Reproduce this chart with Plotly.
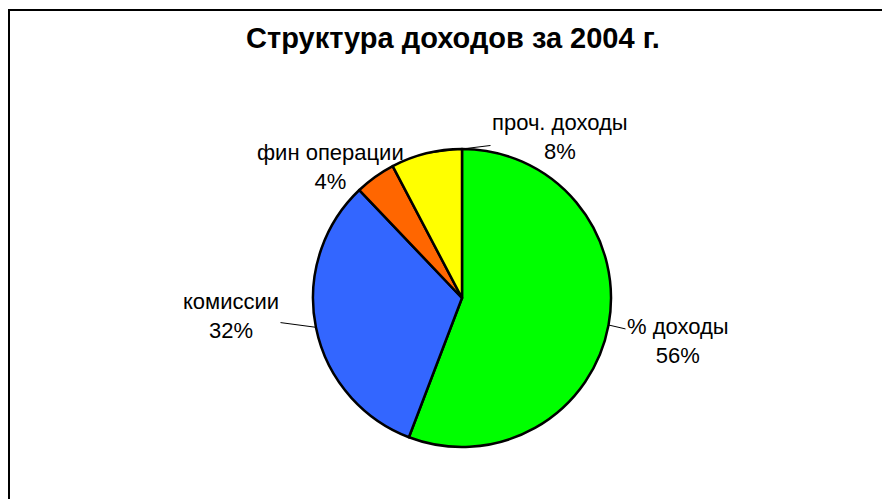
import math
import plotly.graph_objects as go

labels = ["% доходы", "комиссии", "фин операции", "проч. доходы"]
values = [55.8, 32.1, 4.4, 7.7]
colors = ["#00FF00", "#3366FF", "#FF6600", "#FFFF00"]
title = "Структура доходов за 2004 г."

W, H = 890, 499
OFF = 8  # page body margin
cx, cy, r = 462 - OFF, 298 - OFF, 149

# label block centres (page px) and whether a leader line is drawn
label_pos = [(678, 341), (231, 316), (330, 167), (560, 137)]
leader = [True, True, False, True]

fig = go.Figure(go.Pie(
    labels=labels, values=values, sort=False, direction="clockwise", rotation=0,
    marker=dict(colors=colors, line=dict(color="black", width=2.5)),
    textinfo="none",
    domain=dict(x=[(cx - r) / W, (cx + r) / W], y=[(H - cy - r) / H, (H - cy + r) / H]),
    showlegend=False, hoverinfo="label+percent",
))

total = sum(values)
annotations = []
cum = 0.0
for lab, v, (lx, ly), ld in zip(labels, values, label_pos, leader):
    mid = (cum + v / 2) / total * 2 * math.pi
    cum += v
    ex = cx + r * math.sin(mid)
    ey = cy - r * math.cos(mid)
    pct = round(v / total * 100)
    txt = f"{lab}<br>{pct}%"
    lx -= OFF
    ly -= OFF
    if ld:
        annotations.append(dict(
            x=ex / W, y=1 - ey / H, xref="paper", yref="paper",
            ax=lx - ex, ay=ly - ey, axref="pixel", ayref="pixel",
            text=txt, showarrow=True, arrowhead=0, arrowwidth=1, arrowcolor="black",
            standoff=0, startstandoff=0,
            font=dict(family="Liberation Sans, Arial", size=22, color="black"),
        ))
    else:
        annotations.append(dict(
            x=lx / W, y=1 - ly / H, xref="paper", yref="paper", showarrow=False,
            text=txt, xanchor="center", yanchor="middle",
            font=dict(family="Liberation Sans, Arial", size=22, color="black"),
        ))

fig.update_layout(
    width=W, height=H, margin=dict(l=0, r=0, t=0, b=0),
    paper_bgcolor="white", plot_bgcolor="white",
    title=dict(text="<b>" + title + "</b>", x=(453 - OFF) / W, xanchor="center",
               y=1 - (38 - OFF) / H, yanchor="middle",
               font=dict(family="Liberation Sans, Arial", size=29, color="black")),
    annotations=annotations,
    shapes=[dict(type="rect", xref="paper", yref="paper", x0=1 / W, x1=1.02, y0=-0.02, y1=1 - 2 / H,
                 line=dict(color="black", width=2), fillcolor="rgba(0,0,0,0)", layer="below")],
)

fig.write_html("out.html")
